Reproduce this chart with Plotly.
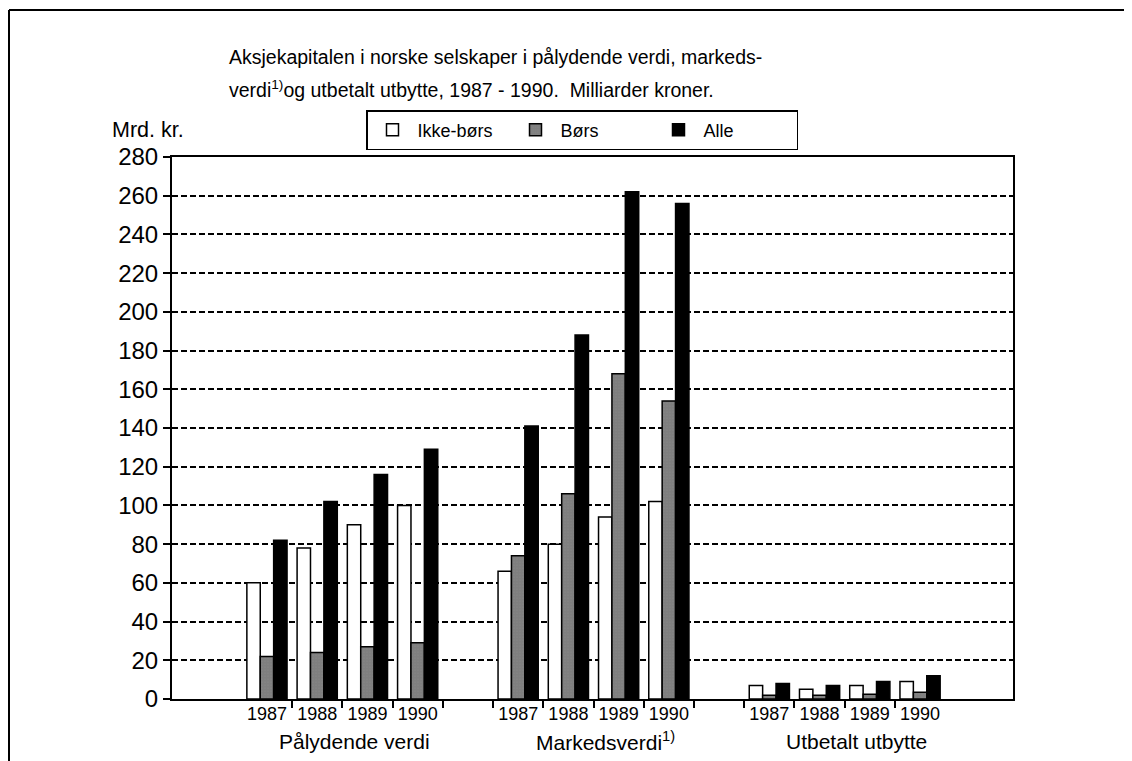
import numpy as np
import plotly.graph_objects as go

groups = ["Pålydende verdi", "Markedsverdi<sup>1)</sup>", "Utbetalt utbytte"]
years = ["1987", "1988", "1989", "1990"]

# values per group, per year (Milliarder kroner)
ikke_bors = [60, 78, 90, 100,   66, 80, 94, 102,   7, 5, 7, 9]
bors      = [22, 24, 27, 29,    74, 106, 168, 154, 2, 2, 2.5, 3.5]
alle      = [82, 102, 116, 129, 141, 188, 262, 256, 8, 7, 9, 12]

series_names = ["Ikke-børs", "Børs", "Alle"]

FONT = "Liberation Sans"

# slot positions: each group takes 4 year slots plus one empty slot as gap
gi, yi = np.meshgrid(np.arange(len(groups)), np.arange(len(years)), indexing="ij")
xpos = (gi * (len(years) + 1) + yi).ravel().astype(float)
year_labels = [years[j] for j in yi.ravel()]
group_centers = [xpos[gi.ravel() == g].mean() for g in range(len(groups))]

fig = go.Figure()
line = dict(color="black", width=1.5)
fig.add_trace(go.Bar(x=xpos, y=ikke_bors, name=series_names[0],
                     marker=dict(color="white", line=line)))
fig.add_trace(go.Bar(x=xpos, y=bors, name=series_names[1],
                     marker=dict(color="white", line=line,
                                 pattern=dict(shape=".", size=3, solidity=0.9,
                                              fgcolor="black", bgcolor="white"))))
fig.add_trace(go.Bar(x=xpos, y=alle, name=series_names[2],
                     marker=dict(color="black", line=line)))

OFF = 8  # page body margin
W, H = 1132 - OFF, 761 - OFF
ml, mt = 172 - OFF, 157 - OFF
mr = W - (1013 - OFF)
mb = H - (699 - OFF)
pw, ph = W - ml - mr, H - mt - mb

def px_x(p):
    return (p - OFF - ml) / pw

def px_y(p):
    return (mt + ph - (p - OFF)) / ph

fig.update_layout(
    width=W, height=H,
    margin=dict(l=ml, r=mr, t=mt, b=mb, pad=0),
    paper_bgcolor="white", plot_bgcolor="white",
    font=dict(family=FONT, color="black", size=18),
    barmode="group", bargap=0.2, bargroupgap=0,
    showlegend=True,
    legend=dict(orientation="h", x=px_x(366), y=px_y(110), xanchor="left", yanchor="top",
                bordercolor="black", borderwidth=1.5, bgcolor="white",
                font=dict(size=18, family=FONT), entrywidth=88, itemwidth=40,
                traceorder="normal"),
)

fig.update_yaxes(range=[0, 280], dtick=20, tick0=0,
                 ticks="outside", ticklen=7, tickwidth=1.5, tickcolor="black",
                 showline=True, linewidth=2, linecolor="black", mirror=True,
                 showgrid=True, gridcolor="black", gridwidth=1.5, griddash="6px,3px",
                 zeroline=False, tickfont=dict(size=24, family=FONT))

fig.update_xaxes(range=[-1.89, 14.85], tickvals=xpos, ticktext=year_labels, ticks="",
                 showline=True, linewidth=2, linecolor="black", mirror=True,
                 showgrid=False, zeroline=False, ticklabelstandoff=-3,
                 tickfont=dict(size=18, family=FONT),
                 minor=dict(tickvals=list(np.arange(0.5, xpos.max(), 1.0)),
                            ticks="outside", ticklen=7, tickwidth=1.5, tickcolor="black",
                            showgrid=False))

annotations = [
    dict(text="Aksjekapitalen i norske selskaper i pålydende verdi, markeds-",
         xref="paper", yref="paper", x=px_x(227), y=px_y(57), xanchor="left", yanchor="middle",
         align="left", showarrow=False, font=dict(size=19.5, family=FONT)),
    dict(text="verdi<sup>1)</sup>og utbetalt utbytte, 1987 - 1990.  Milliarder kroner.",
         xref="paper", yref="paper", x=px_x(227), y=px_y(89), xanchor="left", yanchor="middle",
         align="left", showarrow=False, font=dict(size=19.5, family=FONT)),
    dict(text="Mrd. kr.", xref="paper", yref="paper", x=px_x(148), y=px_y(130),
         xanchor="center", yanchor="middle", showarrow=False, font=dict(size=21.5, family=FONT)),
]
for g, name in enumerate(groups):
    annotations.append(dict(text=name, xref="x", yref="paper", x=group_centers[g], xshift=12,
                            y=px_y(741), xanchor="center", yanchor="middle", showarrow=False,
                            font=dict(size=21, family=FONT)))
fig.update_layout(annotations=annotations)

# outer page frame (left and top edges)
fig.add_shape(type="line", xref="paper", yref="paper", x0=px_x(9), x1=px_x(9),
              y0=px_y(10), y1=px_y(761), line=dict(color="black", width=2))
fig.add_shape(type="line", xref="paper", yref="paper", x0=px_x(9), x1=px_x(1132),
              y0=px_y(10), y1=px_y(10), line=dict(color="black", width=2))

fig.write_html("out.html")
